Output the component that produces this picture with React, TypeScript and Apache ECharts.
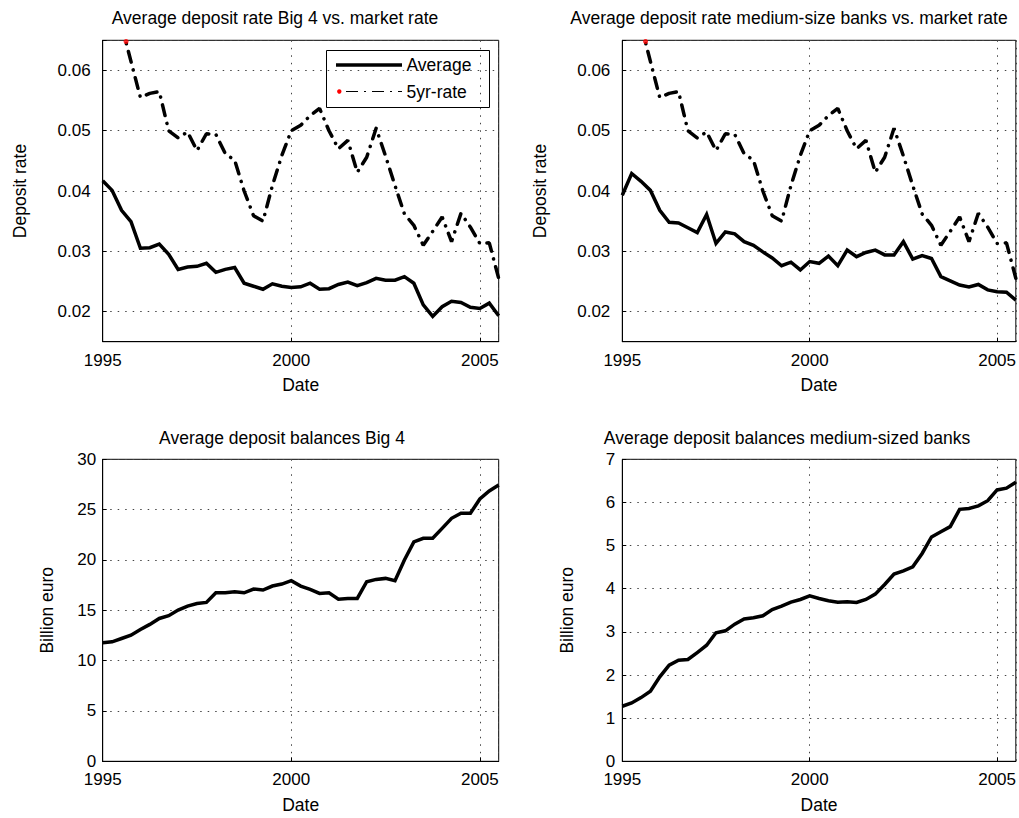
import { useEffect, useRef } from "react";
import * as echarts from "echarts";

const dates = [
  1995, 1995.25, 1995.5, 1995.75, 1996, 1996.25, 1996.5, 1996.75, 1997, 1997.25, 1997.5, 1997.75,
  1998, 1998.25, 1998.5, 1998.75, 1999, 1999.25, 1999.5, 1999.75, 2000, 2000.25, 2000.5, 2000.75,
  2001, 2001.25, 2001.5, 2001.75, 2002, 2002.25, 2002.5, 2002.75, 2003, 2003.25, 2003.5, 2003.75,
  2004, 2004.25, 2004.5, 2004.75, 2005, 2005.25, 2005.5,
];

const big4Rate = [
  0.0417, 0.0401, 0.0368, 0.0349, 0.0305, 0.0306, 0.0312, 0.0295, 0.027, 0.0274, 0.0275, 0.028,
  0.0265, 0.027, 0.0273, 0.0247, 0.0242, 0.0237, 0.0246, 0.0242, 0.024, 0.0241, 0.0247, 0.0237,
  0.0238, 0.0245, 0.0249, 0.0243, 0.0248, 0.0255, 0.0252, 0.0252, 0.0258, 0.0247, 0.0211, 0.0192,
  0.0208, 0.0217, 0.0215, 0.0207, 0.0205, 0.0214, 0.0193,
];

const mediumRate = [
  0.0393, 0.0429, 0.0416, 0.0401, 0.0368, 0.0348, 0.0347, 0.0339, 0.0331, 0.0361, 0.0313, 0.0332,
  0.0329, 0.0316, 0.031, 0.0299, 0.0289, 0.0276, 0.0282, 0.0269, 0.0283, 0.028, 0.0292, 0.0276,
  0.0302, 0.0291, 0.0298, 0.0302, 0.0294, 0.0294, 0.0316, 0.0287, 0.0293, 0.0288, 0.0258, 0.0251,
  0.0244, 0.0241, 0.0245, 0.0236, 0.0233, 0.0232, 0.0219,
];

const market5yr = [
  null, null, 0.0675, 0.0615, 0.0555, 0.0562, 0.0565, 0.05, 0.0488, 0.0498, 0.0467, 0.0495,
  0.0494, 0.0462, 0.0451, 0.04, 0.0359, 0.035, 0.0409, 0.0459, 0.05, 0.0509, 0.0525, 0.0537,
  0.05, 0.047, 0.0484, 0.0431, 0.0456, 0.0504, 0.0458, 0.0409, 0.0362, 0.0343, 0.031, 0.0333,
  0.0357, 0.0316, 0.0363, 0.034, 0.0313, 0.0314, 0.0255,
];

const marketMarker = [[1995.62, 0.0648]];

const big4Balance = [
  11.77, 11.87, 12.2, 12.53, 13.1, 13.6, 14.19, 14.46, 15.02, 15.42, 15.68, 15.78,
  16.74, 16.74, 16.84, 16.74, 17.11, 17.01, 17.41, 17.61, 17.94, 17.41, 17.08, 16.68,
  16.74, 16.11, 16.18, 16.18, 17.84, 18.07, 18.17, 17.94, 20.0, 21.8, 22.15, 22.15,
  23.14, 24.14, 24.64, 24.64, 26.06, 26.86, 27.45,
];

const mediumBalance = [
  1.276, 1.353, 1.477, 1.624, 1.957, 2.227, 2.343, 2.359, 2.521, 2.69, 2.978, 3.024,
  3.179, 3.3, 3.326, 3.372, 3.519, 3.596, 3.689, 3.751, 3.836, 3.774, 3.72, 3.689,
  3.697, 3.681, 3.751, 3.875, 4.099, 4.339, 4.416, 4.509, 4.818, 5.2, 5.32, 5.44,
  5.84, 5.86, 5.92, 6.04, 6.29, 6.33, 6.47,
];

const titles = [
  "Average deposit rate Big 4 vs. market rate",
  "Average deposit rate medium-size banks vs. market rate",
  "Average deposit balances Big 4",
  "Average deposit balances medium-sized banks",
];
const legendNames = ["Average", "5yr-rate"];
const xTicks = { min: 1995, max: 2005.5, interval: 5 };

const FONT = "'Liberation Sans', Arial, Helvetica, sans-serif";
const TXT = 17.5;
const TICK = 17;

const pairs = (arr: (number | null)[]) => dates.map((d, i) => [d, arr[i]]);

const grids = [
  { left: 102.7, top: 40.3, width: 396, height: 301.4 },
  { left: 622.3, top: 40.3, width: 395, height: 301.4 },
  { left: 102.7, top: 459.3, width: 396, height: 302 },
  { left: 622.3, top: 459.3, width: 395, height: 302 },
];

const gridLine = { show: true, lineStyle: { color: "#444", type: [1.5, 6], width: 1 } };

function makeX(gridIndex: number, gap: number) {
  return {
    type: "value",
    gridIndex,
    min: xTicks.min,
    max: xTicks.max,
    interval: xTicks.interval,
    name: "Date",
    nameLocation: "middle",
    nameGap: gap,
    nameTextStyle: { fontFamily: FONT, fontSize: TXT, color: "#000" },
    axisLine: { show: true, onZero: false, lineStyle: { color: "#000", width: 1 } },
    axisTick: { show: true, inside: true, length: 4, lineStyle: { color: "#000" } },
    axisLabel: {
      margin: 10,
      fontFamily: FONT,
      fontSize: TICK,
      color: "#000",
      showMaxLabel: false,
      formatter: (v: number) => (v % 1 === 0 ? String(v) : ""),
    },
    splitLine: gridLine,
  };
}

function makeY(gridIndex: number, name: string, min: number, max: number, interval: number | null, gap: number, margin: number) {
  const ax: any = {
    type: "value",
    gridIndex,
    min,
    max,
    name,
    nameLocation: "middle",
    nameRotate: 90,
    nameGap: gap,
    nameTextStyle: { fontFamily: FONT, fontSize: TXT, color: "#000" },
    axisLine: { show: true, onZero: false, lineStyle: { color: "#000", width: 1 } },
    axisTick: { show: true, inside: true, length: 4, lineStyle: { color: "#000" } },
    axisLabel: {
      margin,
      fontFamily: FONT,
      fontSize: TICK,
      color: "#000",
      formatter: (v: number) =>
        Math.abs(v - min) < 1e-9 && interval === null
          ? ""
          : Math.abs(v - max) < 1e-9 && interval === null
          ? ""
          : String(parseFloat(v.toFixed(4))),
    },
    splitLine: gridLine,
  };
  if (interval !== null) ax.interval = interval;
  else ax.splitNumber = 5;
  return ax;
}

const solid = (xi: number, data: any[], name: string) => ({
  type: "line",
  name,
  xAxisIndex: xi,
  yAxisIndex: xi,
  data,
  symbol: "none",
  clip: true,
  lineStyle: { color: "#000", width: 3.5, join: "miter" },
  z: 3,
});

const dashDot = (xi: number) => ({
  type: "line",
  name: legendNames[1],
  xAxisIndex: xi,
  yAxisIndex: xi,
  data: pairs(market5yr),
  symbol: "none",
  clip: true,
  connectNulls: false,
  lineStyle: { color: "#000", width: 3.5, type: [11, 8, 0.1, 8], cap: "round" },
  z: 3,
});

const marker = (xi: number) => ({
  type: "scatter",
  xAxisIndex: xi,
  yAxisIndex: xi,
  data: marketMarker,
  symbol: "circle",
  symbolSize: 5,
  itemStyle: { color: "#ff0000" },
  z: 5,
});

const titleText = (text: string, x: number, y: number) => ({
  type: "text",
  x,
  y,
  style: { text, fontFamily: FONT, fontSize: TXT, fill: "#000", align: "center", verticalAlign: "middle" },
});

const option: any = {
  animation: false,
  backgroundColor: "#fff",
  grid: grids.map((g) => ({ ...g, show: true, borderColor: "#000", borderWidth: 1, containLabel: false })),
  xAxis: [makeX(0, 34), makeX(1, 34), makeX(2, 35), makeX(3, 35)],
  yAxis: [
    makeY(0, "Deposit rate", 0.015, 0.065, null, 74, 12),
    makeY(1, "Deposit rate", 0.015, 0.065, null, 73, 12),
    makeY(2, "Billion euro", 0, 30, 5, 47, 6.5),
    makeY(3, "Billion euro", 0, 7, 1, 46, 7),
  ],
  series: [
    solid(0, pairs(big4Rate), legendNames[0]),
    dashDot(0),
    marker(0),
    solid(1, pairs(mediumRate), legendNames[0]),
    dashDot(1),
    marker(1),
    solid(2, pairs(big4Balance), "Balance"),
    solid(3, pairs(mediumBalance), "Balance"),
  ],
  graphic: [
    titleText(titles[0], 275, 17.5),
    titleText(titles[1], 789, 17.5),
    titleText(titles[2], 282, 437.5),
    titleText(titles[3], 787, 437.5),
    {
      type: "group",
      z: 100,
      children: [
        { type: "rect", shape: { x: 326.5, y: 50.5, width: 163, height: 57 }, style: { fill: "#fff", stroke: "#000", lineWidth: 1 } },
        { type: "line", shape: { x1: 336, y1: 65, x2: 402, y2: 65 }, style: { stroke: "#000", lineWidth: 3.5 } },
        { type: "text", x: 406.5, y: 65, style: { text: legendNames[0], fontFamily: FONT, fontSize: TXT, fill: "#000", verticalAlign: "middle" } },
        { type: "circle", shape: { cx: 339.3, cy: 91.5, r: 2.2 }, style: { fill: "#ff0000" } },
        { type: "line", shape: { x1: 346, y1: 91.5, x2: 402, y2: 91.5 }, style: { stroke: "#000", lineWidth: 1, lineDash: [12, 6, 2, 6] } },
        { type: "text", x: 406.5, y: 91.5, style: { text: legendNames[1], fontFamily: FONT, fontSize: TXT, fill: "#000", verticalAlign: "middle" } },
      ],
    },
  ],
};

export default function App() {
  const ref = useRef<HTMLDivElement>(null);
  useEffect(() => {
    if (!ref.current) return;
    const chart = echarts.init(ref.current, null, { renderer: "svg" });
    chart.setOption(option);
    return () => chart.dispose();
  }, []);
  return (
    <div
      ref={ref}
      style={{ position: "absolute", left: 0, top: 0, width: 1019, height: 818, background: "#fff" }}
    />
  );
}
